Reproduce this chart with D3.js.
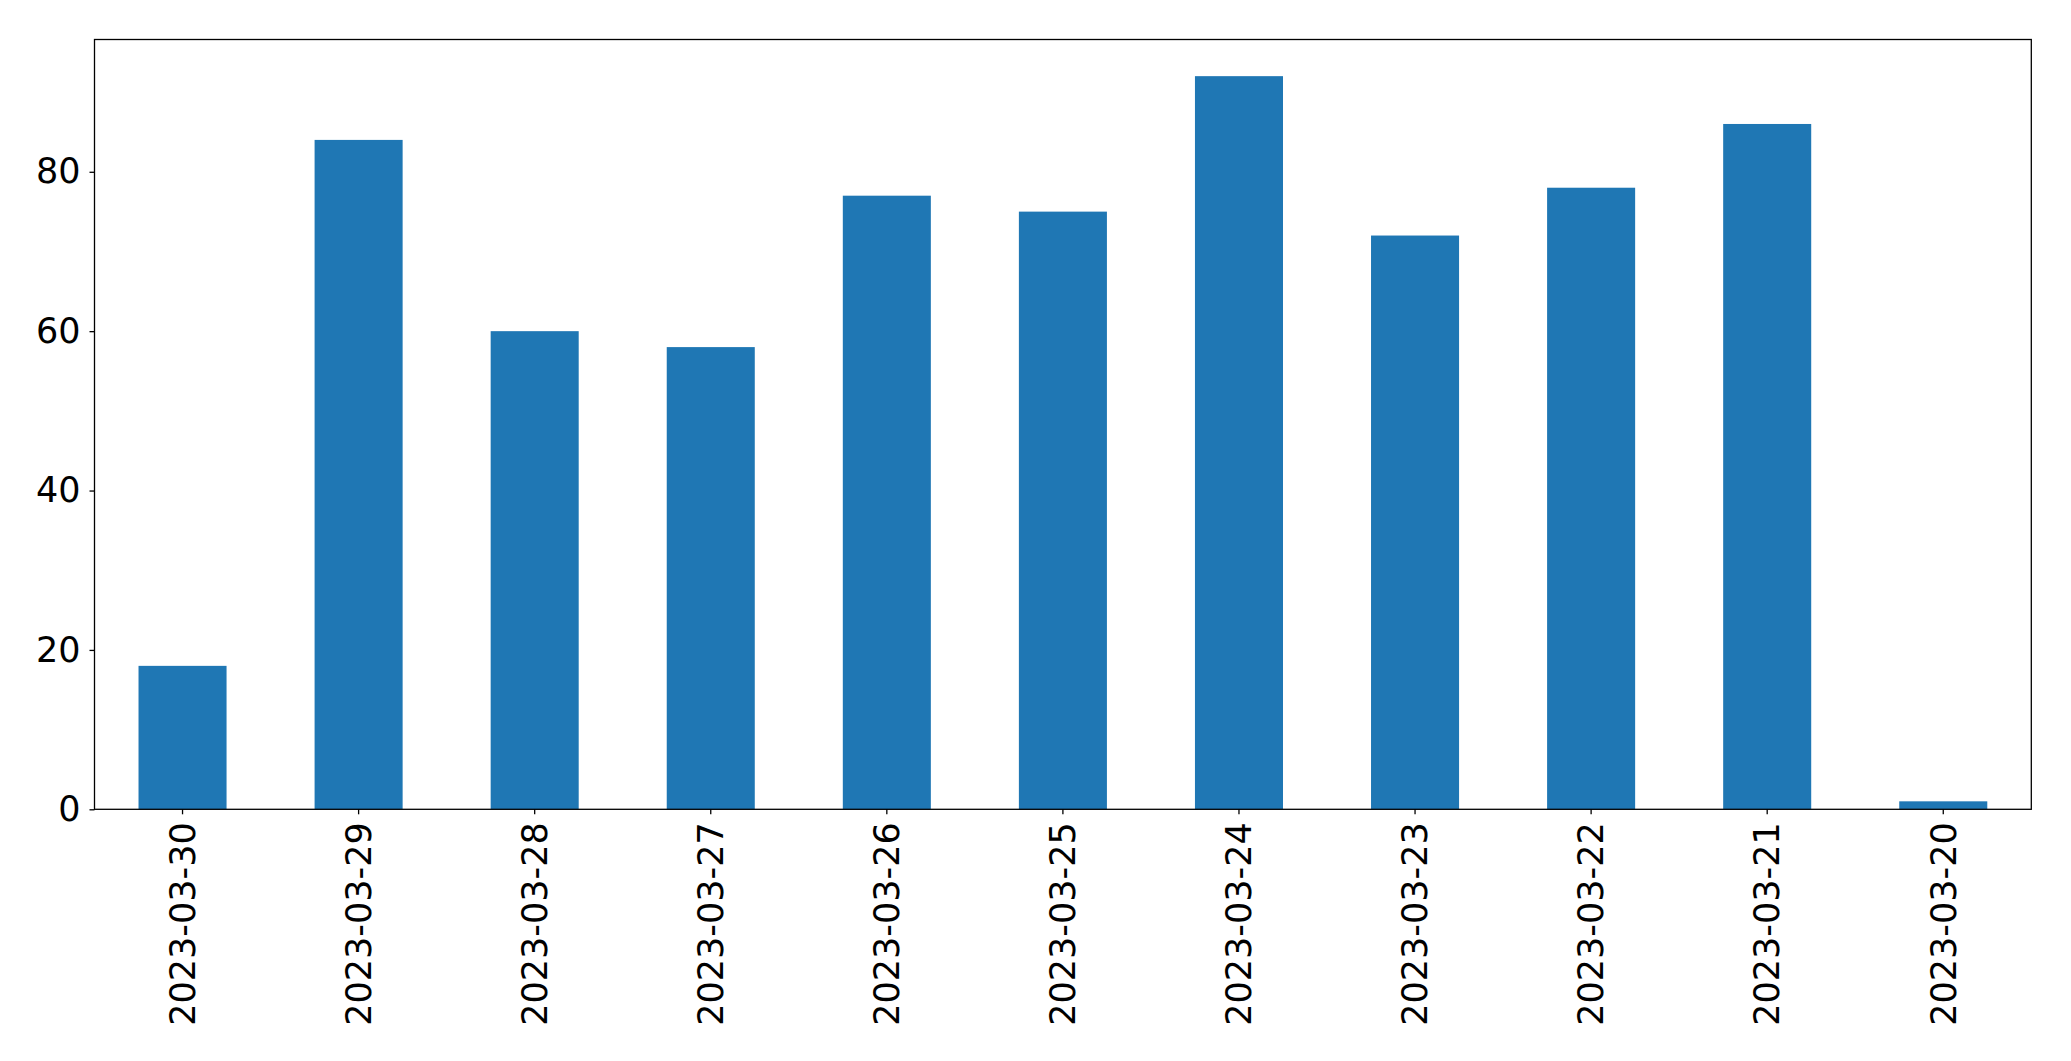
<!DOCTYPE html>
<html>
<head>
<meta charset="utf-8">
<script src="https://cdn.jsdelivr.net/npm/d3@7"></script>
<style>
  html, body { margin: 0; padding: 0; background: #fff; }
  svg { display: block; }
  text { font-family: "DejaVu Sans", sans-serif; fill: #000; }
</style>
</head>
<body>
<svg id="chart" width="2071" height="1061"></svg>
<script>
const categories = ["2023-03-30", "2023-03-29", "2023-03-28", "2023-03-27", "2023-03-26", "2023-03-25", "2023-03-24", "2023-03-23", "2023-03-22", "2023-03-21", "2023-03-20"];
const values = [18, 84, 60, 58, 77, 75, 92, 72, 78, 86, 1];
const yTicks = [0, 20, 40, 60, 80];

const W = 2071, H = 1061;
const margin = { left: 94.5, right: W - 2031.3, top: 39.5, bottom: H - 809.3 };
const innerW = W - margin.left - margin.right;
const innerH = H - margin.top - margin.bottom;

const svg = d3.select("#chart");
const g = svg.append("g").attr("transform", `translate(${margin.left},${margin.top})`);

const x = d3.scaleBand().domain(categories).range([0, innerW]).paddingInner(0.5).paddingOuter(0.25);
const yMax = d3.max(values) * 1.05;
const y = d3.scaleLinear().domain([0, yMax]).range([innerH, 0]);

g.selectAll("rect.bar").data(values).join("rect")
  .attr("class", "bar")
  .attr("x", (d, i) => x(categories[i]))
  .attr("width", x.bandwidth())
  .attr("y", d => y(d))
  .attr("height", d => y(0) - y(d))
  .attr("fill", "#1f77b4");

const fontSize = 35;

const yAxis = g.append("g").call(d3.axisLeft(y).tickValues(yTicks).tickFormat(d3.format("d")).tickSize(5).tickPadding(9));
yAxis.select(".domain").remove();
yAxis.selectAll("line").attr("stroke", "#000").attr("stroke-width", 1.3);
yAxis.selectAll("text").style("font-size", fontSize + "px").attr("font-family", "DejaVu Sans").attr("fill", "#000");

const xAxis = g.append("g").attr("transform", `translate(0,${innerH})`)
  .call(d3.axisBottom(x).tickSize(5).tickPadding(0));
xAxis.select(".domain").remove();
xAxis.selectAll("line").attr("stroke", "#000").attr("stroke-width", 1.3);
xAxis.selectAll("text")
  .style("font-size", fontSize + "px")
  .attr("font-family", "DejaVu Sans")
  .attr("fill", "#000")
  .attr("transform", "translate(0,13) rotate(-90)")
  .attr("x", 0).attr("y", 0).attr("dy", "0.35em")
  .attr("text-anchor", "end");

g.append("rect")
  .attr("x", 0).attr("y", 0).attr("width", innerW).attr("height", innerH)
  .attr("fill", "none").attr("stroke", "#000").attr("stroke-width", 1.3);
</script>
</body>
</html>
